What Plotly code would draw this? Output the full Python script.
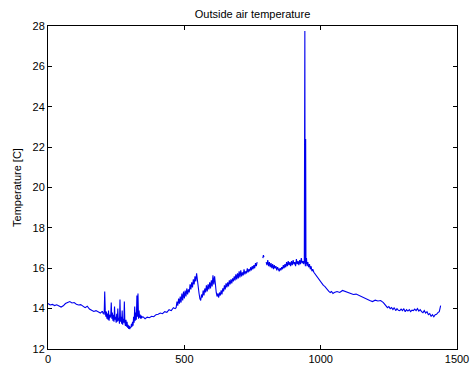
import plotly.graph_objects as go

# Outside air temperature [C] by minute of day.
# Each block: minutes list + temperature list.
minutes_early = [0, 8, 16, 24, 32, 40, 48, 56, 64, 72, 80, 88, 96, 104, 112, 120, 128,
                 136, 144, 152, 160, 168, 176, 184, 192, 198]
temp_early = [14.25, 14.18, 14.21, 14.15, 14.19, 14.12, 14.08, 14.14, 14.25, 14.30,
              14.35, 14.28, 14.30, 14.22, 14.18, 14.20, 14.10, 14.05, 14.12, 13.98,
              13.92, 13.86, 13.90, 13.82, 13.78, 13.85]

minutes_dip = list(range(200, 345, 2))
temp_dip = [13.85, 13.75, 13.82, 13.70, 14.85, 13.90, 13.60, 13.85, 13.50, 13.75, 13.45,
            13.90, 13.40, 13.70, 13.55, 13.65,
            14.30, 13.50, 13.80, 13.40, 13.70, 13.35, 14.10, 13.45, 13.60, 13.30, 13.75,
            13.35, 14.00, 13.40, 13.55, 13.25,
            14.45, 13.35, 13.60, 13.25, 13.90, 13.20, 13.50, 13.30, 14.35, 13.30, 13.15,
            13.45, 13.10, 13.35, 13.05, 13.20,
            13.00, 13.15, 12.98, 13.10, 13.05, 13.25, 13.10, 13.35, 13.15, 13.60, 13.30,
            14.10, 13.40, 13.80, 13.45, 14.65,
            13.60, 14.75, 13.50, 13.90, 13.55, 13.70, 13.50, 13.65, 13.55]

minutes_rise = [348, 356, 364, 372, 380, 388, 396, 404, 412, 420, 428, 436, 444, 452,
                460, 466]
temp_rise = [13.60, 13.50, 13.58, 13.55, 13.62, 13.60, 13.70, 13.72, 13.78, 13.75,
             13.85, 13.82, 13.95, 13.90, 14.05, 14.00]

minutes_warm = list(range(470, 768, 3))
temp_warm = [14.05, 14.35, 14.15, 14.50, 14.25, 14.60, 14.30, 14.75, 14.40, 14.85, 14.50,
             14.90, 14.60, 15.00, 14.70, 14.95, 14.80, 15.20, 14.95, 15.30, 15.05, 15.45,
             15.20, 15.60, 15.35, 15.75,
             15.30, 15.00, 14.75, 14.50, 14.40, 14.70, 14.55, 14.90, 14.65, 15.00, 14.80,
             15.15, 14.85, 15.20, 14.95,
             15.30, 15.00, 15.40, 15.10, 15.65, 15.20, 15.60, 15.05, 14.80, 14.60, 14.75,
             14.55, 14.80, 14.65, 14.90,
             14.70, 15.00, 14.85, 15.15, 14.95, 15.25, 15.05, 15.30, 15.10, 15.40, 15.20,
             15.45, 15.25, 15.50, 15.35,
             15.60, 15.40, 15.70, 15.45, 15.75, 15.50, 15.85, 15.55, 15.90, 15.60, 15.80,
             15.65, 15.95, 15.70, 15.85,
             15.75, 16.00, 15.80, 15.95, 15.85, 16.05, 15.90, 16.10, 15.95, 16.15, 16.00,
             16.25, 16.10, 16.30]

# missing data, an isolated short reading, missing data again
minutes_gap = [778, 788, 790, 792, 796]
temp_gap = [None, 16.50, 16.65, 16.55, None]

minutes_plateau = list(range(800, 939, 3))
temp_plateau = [16.30, 16.15, 16.40, 16.10, 16.30, 16.05, 16.25, 16.00, 16.20, 15.95,
                16.15, 16.00, 16.10, 15.90, 16.05,
                15.95, 15.85, 16.00, 15.90, 16.05, 15.95, 16.15, 16.00, 16.20, 16.05,
                16.30, 16.10, 16.35, 16.15, 16.30,
                16.10, 16.35, 16.15, 16.40, 16.20, 16.30, 16.10, 16.45, 16.20, 16.35,
                16.15, 16.40, 16.20, 16.50, 16.25,
                16.35, 16.20]

minutes_spike = [940, 942, 943, 944, 945, 946, 948, 950, 953, 956, 959, 962, 965, 968, 971]
temp_spike = [16.40, 27.75, 16.30, 16.10, 22.40, 16.20, 16.50, 16.10, 16.30, 16.05,
              16.20, 15.95, 16.10, 15.85, 15.95]

minutes_fall = [975, 980, 985, 990, 995, 1000, 1005, 1010, 1015, 1020, 1025, 1030, 1035,
                1040, 1045, 1050, 1060, 1070, 1080, 1090, 1100, 1110, 1120, 1130, 1140,
                1150, 1160, 1170, 1180, 1190, 1200, 1210, 1220, 1230, 1236]
temp_fall = [15.80, 15.70, 15.60, 15.50, 15.45, 15.30, 15.25, 15.15, 15.10, 15.00, 14.95,
             14.85, 14.80, 14.85, 14.75, 14.80, 14.85, 14.80, 14.90, 14.85, 14.80, 14.75,
             14.70, 14.72, 14.65, 14.60, 14.55, 14.45, 14.40, 14.35, 14.42, 14.38, 14.40,
             14.30, 14.22]

minutes_late = list(range(1240, 1441, 5))
temp_late = [14.15, 14.05, 14.10, 14.00, 14.05, 13.95, 14.05, 13.90, 14.00, 13.92, 13.90,
             13.98, 13.90, 14.00, 13.85, 13.95, 13.88, 13.95, 13.85, 13.92, 13.90, 13.98,
             13.90, 14.00, 13.88, 13.95, 13.85, 13.80, 13.90, 13.78, 13.85, 13.70, 13.75,
             13.62, 13.70, 13.60, 13.70, 13.72, 13.80, 13.85, 14.15]

minutes = (minutes_early + minutes_dip + minutes_rise + minutes_warm + minutes_gap
           + minutes_plateau + minutes_spike + minutes_fall + minutes_late)
temperature = (temp_early + temp_dip + temp_rise + temp_warm + temp_gap
               + temp_plateau + temp_spike + temp_fall + temp_late)

x_ticks = [0, 500, 1000, 1500]
y_ticks = [12, 14, 16, 18, 20, 22, 24, 26, 28]

font_family = "Liberation Sans, Arial, Helvetica, sans-serif"

fig = go.Figure()
fig.add_trace(go.Scatter(
    x=minutes, y=temperature, mode="lines",
    line=dict(color="#0000ee", width=1.1),
    connectgaps=False, showlegend=False,
))

axis_common = dict(
    showgrid=False, zeroline=False, showline=True, linecolor="black", linewidth=1,
    mirror="ticks", ticks="inside", ticklen=4, tickcolor="black", tickwidth=1,
    automargin=False,
    tickfont=dict(family=font_family, size=11, color="black"),
)

fig.update_layout(
    width=470, height=368,
    margin=dict(l=48, r=13, t=26, b=19),
    paper_bgcolor="white", plot_bgcolor="white",
    font=dict(family=font_family, size=11, color="black"),
    title=dict(text="Outside air temperature", x=0.5, xanchor="center",
               xref="paper", y=1 - 14 / 368, yanchor="middle",
               font=dict(family=font_family, size=11, color="black")),
    xaxis=dict(range=[0, 1500], tickvals=x_ticks, **axis_common),
    yaxis=dict(range=[12, 28], tickvals=y_ticks,
               title=dict(text="Temperature [C]", standoff=8,
                          font=dict(family=font_family, size=11, color="black")),
               **axis_common),
)

fig.write_html("out.html")
